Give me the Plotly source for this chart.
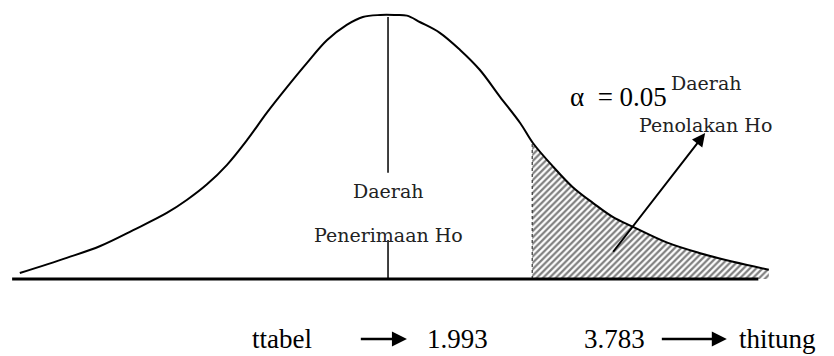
import plotly.graph_objects as go

# t-distribution sketch, values (t units, density)
curve_t = [-5.26, -4.59, -4.11, -3.64, -3.16, -2.87, -2.59, -2.30, -2.01, -1.73,
           -1.44, -1.16, -0.87, -0.59, -0.36, -0.11, 0.10, 0.27, 0.46, 0.74,
           1.03, 1.31, 1.60, 1.89, 2.07, 2.36, 2.64, 2.93, 3.21, 3.50,
           3.99, 4.46, 4.93, 5.44]
curve_d = [0.009, 0.032, 0.050, 0.074, 0.100, 0.120, 0.143, 0.173, 0.211, 0.252,
           0.291, 0.327, 0.362, 0.385, 0.397, 0.400, 0.400, 0.399, 0.389, 0.373,
           0.347, 0.317, 0.276, 0.236, 0.206, 0.170, 0.139, 0.115, 0.094, 0.079,
           0.055, 0.039, 0.026, 0.014]

# rejection region (hatched tail)
tail_t = [2.06, 2.36, 2.64, 2.93, 3.21, 3.50, 3.99, 4.46, 4.93, 5.44]
tail_d = [0.206, 0.170, 0.139, 0.115, 0.094, 0.079, 0.055, 0.039, 0.026, 0.014]

base_t = [-5.37, 5.29]
t_tabel = 1.993
t_hitung = 3.783
alpha = 0.05

serif = "Liberation Serif, Times New Roman, serif"
label_font = "DejaVu Serif, serif"

fig = go.Figure()

fig.add_trace(go.Scatter(
    x=tail_t, y=tail_d, mode="lines", line=dict(width=0, shape="spline"),
    fill="tozeroy", fillcolor="rgba(0,0,0,0)",
    fillpattern=dict(shape="/", size=4.5, solidity=0.5, fgcolor="black", bgcolor="white"),
    hoverinfo="skip", showlegend=False))

fig.add_trace(go.Scatter(
    x=curve_t, y=curve_d, mode="lines",
    line=dict(color="black", width=2, shape="spline", smoothing=1),
    hoverinfo="skip", showlegend=False))

# dotted edge of the rejection region
fig.add_trace(go.Scatter(
    x=[tail_t[0], tail_t[0]], y=[0, tail_d[0]], mode="lines",
    line=dict(color="#333", width=1.2, dash="dot"), hoverinfo="skip", showlegend=False))

# centre line, broken by the label
fig.add_trace(go.Scatter(
    x=[0, 0, None, 0, 0], y=[0.397, 0.161, None, 0.059, 0], mode="lines",
    line=dict(color="black", width=1.5), hoverinfo="skip", showlegend=False))

# baseline
fig.add_trace(go.Scatter(
    x=base_t, y=[0, 0], mode="lines", line=dict(color="black", width=3),
    hoverinfo="skip", showlegend=False))

txt = dict(showarrow=False, xref="x", yref="y")
fig.add_annotation(x=0.0, y=0.133, text="Daerah", font=dict(family=label_font, size=19, color="#222"), **txt)
fig.add_annotation(x=0.0, y=0.067, text="Penerimaan Ho", font=dict(family=label_font, size=19, color="#222"), **txt)
fig.add_annotation(x=3.29, y=0.276, text=f"α  = {alpha:.2f}", font=dict(family=serif, size=27, color="black"), **txt)
fig.add_annotation(x=4.54, y=0.297, text="Daerah", font=dict(family=label_font, size=19, color="#222"), **txt)
fig.add_annotation(x=4.53, y=0.233, text="Penolakan Ho", font=dict(family=label_font, size=19, color="#222"), **txt)

# arrow to the rejection label
fig.add_annotation(x=4.53, y=0.221, ax=3.2, ay=0.039, axref="x", ayref="y", xref="x", yref="y",
                   text="", showarrow=True, arrowhead=2, arrowsize=1.3, arrowwidth=2, arrowcolor="black")

# bottom legend line
bottom = -0.091
fsz = 27
fig.add_annotation(x=-1.51, y=bottom, text="ttabel", font=dict(family=serif, size=fsz, color="black"), **txt)
fig.add_annotation(x=0.27, y=bottom, ax=-0.41, ay=bottom, axref="x", ayref="y", xref="x", yref="y",
                   text="", showarrow=True, arrowhead=2, arrowsize=1.2, arrowwidth=2.5, arrowcolor="black")
fig.add_annotation(x=0.99, y=bottom, text=f"{t_tabel:.3f}", font=dict(family=serif, size=fsz, color="black"), **txt)
fig.add_annotation(x=3.23, y=bottom, text=f"{t_hitung:.3f}", font=dict(family=serif, size=fsz, color="black"), **txt)
fig.add_annotation(x=4.84, y=bottom, ax=3.89, ay=bottom, axref="x", ayref="y", xref="x", yref="y",
                   text="", showarrow=True, arrowhead=2, arrowsize=1.2, arrowwidth=2.5, arrowcolor="black")
fig.add_annotation(x=4.99, y=bottom, text="thitung", xanchor="left",
                   font=dict(family=serif, size=fsz, color="black"), **txt)

fig.update_layout(
    width=834, height=356, margin=dict(l=0, r=0, t=0, b=0),
    paper_bgcolor="white", plot_bgcolor="white",
    xaxis=dict(range=[-5.543, 6.371], visible=False, fixedrange=True),
    yaxis=dict(range=[-0.1167, 0.4227], visible=False, fixedrange=True),
)

# drop the default page margin so the figure sits at the window corner
fig.write_html("out.html", post_script="document.body.style.margin='0';",
               config={"displayModeBar": False})
